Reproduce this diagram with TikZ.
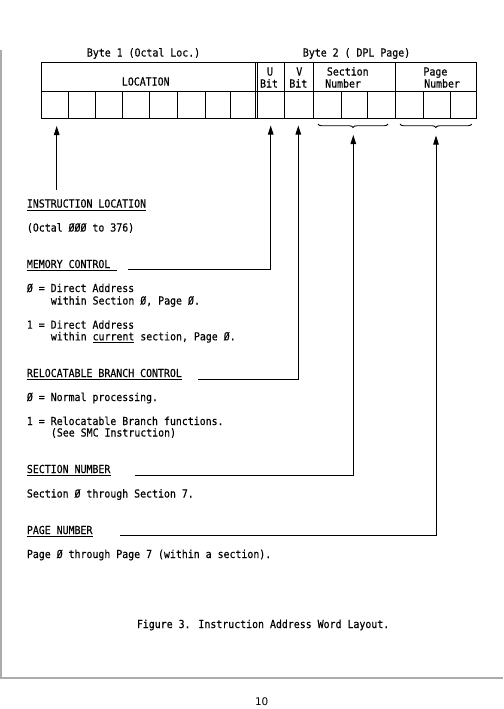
\documentclass[tikz,border=0pt]{standalone}
\usepackage{fontspec}
\newfontfamily\tw[FakeStretch=0.9,FakeBold=0.3]{DejaVu Sans Mono}
\newfontfamily\pgf{DejaVu Sans}
\newcommand\tf{\tw\fontsize{11pt}{12.5pt}\selectfont}
\usetikzlibrary{arrows.meta,decorations.pathreplacing,calc}
\begin{document}
\begin{tikzpicture}[x=1pt,y=-1pt,
  txt/.style={anchor=base west,inner sep=0pt,font=\tf},
  ctxt/.style={anchor=base,inner sep=0pt,font=\tf},
  grid/.style={line width=0.9pt},
  conn/.style={line width=0.9pt},
  arr/.style={conn,-{Triangle[length=9pt,width=5.5pt]}},
  ulin/.style={line width=0.7pt},
  brc/.style={line width=0.9pt,decorate,decoration={brace,mirror,amplitude=3.5pt}}]
\useasboundingbox (0,0) rectangle (503,709);

% page frame
\draw[gray!65,line width=1.2pt] (1,50) -- (1,678) -- (503,678);

% headers
\node[txt] (b1) at (86.7,56.5) {Byte 1 (Octal Loc.)};
\node[txt] (b2) at (302.7,56.5) {Byte 2 ( DPL Page)};

% table
\draw[grid] (41.7,62.3) rectangle (476.7,118.3);
\draw[grid] (41.7,91) -- (476.7,91);
\foreach \x in {255,257.7,284.3,313.3,395.7}
  \draw[grid] (\x,62.3) -- (\x,118.3);
\foreach \x in {68.3,95.7,122.3,149.7,177.7,205.7,230.3,341,367.7,423.3,450}
  \draw[grid] (\x,91) -- (\x,118.3);

\node[txt] (loc) at (121.7,85.5) {LOCATION};
\node[ctxt] (u1) at (270,75.5) {U};
\node[ctxt] (u2) at (269,87.5) {Bit};
\node[ctxt] (v1) at (299.3,75.5) {V};
\node[ctxt] (v2) at (298.3,87.5) {Bit};
\node[txt] (s1) at (326.7,75.5) {Section};
\node[txt] (s2) at (325,87.5) {Number};
\node[txt] (p1) at (423.3,75.5) {Page};
\node[txt] (p2) at (424,87.5) {Number};

% braces
\draw[brc] (318,124) -- (388,124);
\draw[brc] (400,124) -- (471.7,124);

% arrow tips
\coordinate (tLoc) at (56.7,126);
\coordinate (tU) at (270.7,125.5);
\coordinate (tV) at (298.3,125.5);
\coordinate (tS) at (353.3,135);
\coordinate (tP) at (436,135.5);

% free ends
\coordinate (eLoc) at (56.7,190);
\coordinate (eMC) at (128.3,269.3);
\coordinate (eRB) at (198.3,379);
\coordinate (eSN) at (135,475.7);
\coordinate (ePN) at (120,535.7);

\draw[arr] (eLoc) -- (tLoc);
\draw[arr] (eMC) -| (tU);
\draw[arr] (eRB) -| (tV);
\draw[arr] (eSN) -| (tS);
\draw[arr] (ePN) -| (tP);

% texts
\node[txt] (h1) at (26.7,207.5) {INSTRUCTION LOCATION};
\node[txt] (t1) at (26.7,231.5) {(Octal ØØØ to 376)};

\node[txt] (h2) at (26.7,268) {MEMORY CONTROL};
\node[txt] (t2a) at (26.7,292) {Ø = Direct Address};
\node[txt] (t2b) at (50.7,304.5) {within Section Ø, Page Ø.};
\node[txt] (t2c) at (26.7,328.7) {1 = Direct Address};
\node[txt] (t2d) at (50.7,340.3) {within \underline{current} section, Page Ø.};

\node[txt] (h3) at (26.7,377) {RELOCATABLE BRANCH CONTROL};
\node[txt] (t3a) at (26.7,401) {Ø = Normal processing.};
\node[txt] (t3b) at (26.7,425) {1 = Relocatable Branch functions.};
\node[txt] (t3c) at (50.7,436.5) {(See SMC Instruction)};

\node[txt] (h4) at (26.7,473) {SECTION NUMBER};
\node[txt] (t4) at (26.7,497.5) {Section Ø through Section 7.};

\node[txt] (h5) at (26.7,534) {PAGE NUMBER};
\node[txt] (t5) at (26.7,558) {Page Ø through Page 7 (within a section).};

\node[txt] (cap) at (136.7,628) {Figure 3. Instruction Address Word Layout.};
\node[anchor=base,inner sep=0pt,font=\pgf\fontsize{10.5pt}{12pt}\selectfont] (pg) at (261.7,705.5) {10};

% underlines
\draw[ulin] ($(h1.base west)+(0,2.5)$) -- ($(h1.base east)+(0,2.5)$);
\draw[ulin] ($(h2.base west)+(0,2)$) -- ($(h2.base east)+(6.5,2)$);
\draw[ulin] ($(h3.base west)+(0,2.5)$) -- ($(h3.base east)+(0,2.5)$);
\draw[ulin] ($(h4.base west)+(0,2.5)$) -- ($(h4.base east)+(0,2.5)$);
\draw[ulin] ($(h5.base west)+(0,2.3)$) -- ($(h5.base east)+(0,2.3)$);
\end{tikzpicture}
\end{document}
